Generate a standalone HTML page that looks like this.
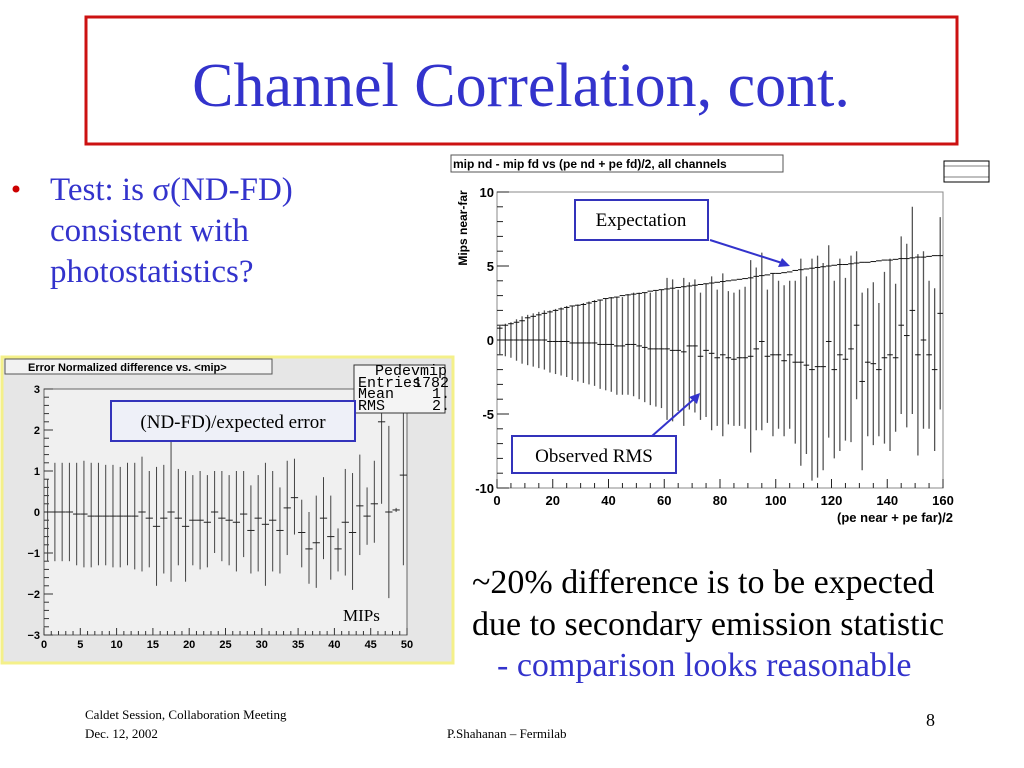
<!DOCTYPE html>
<html><head><meta charset="utf-8"><style>
html,body{margin:0;padding:0;background:#fff;}
body{width:1024px;height:768px;overflow:hidden;position:relative;}
svg{position:absolute;left:0;top:0;}
.serif{font-family:"Liberation Serif",serif;}
.sans{font-family:"Liberation Sans",sans-serif;}
</style></head><body>
<svg id="s" width="1024" height="768" viewBox="0 0 1024 768" xmlns="http://www.w3.org/2000/svg">
  <rect x="86" y="17" width="871" height="127" fill="#fff" stroke="#cc1111" stroke-width="3"/>
  <text class="serif" x="521" y="106" font-size="62" fill="#3333cc" text-anchor="middle">Channel Correlation, cont.</text>

  <circle cx="16" cy="189" r="3.5" fill="#cc0000"/>
  <g class="serif" font-size="33" fill="#3333cc">
    <text x="50" y="200">Test: is σ(ND-FD)</text>
    <text x="50" y="241">consistent with</text>
    <text x="50" y="282">photostatistics?</text>
  </g>

  <g class="serif" font-size="34">
    <text x="472" y="593" fill="#000">~20% difference is to be expected</text>
    <text x="472" y="635" fill="#000">due to secondary emission statistic</text>
    <text x="497" y="676" fill="#3333cc">- comparison looks reasonable</text>
  </g>

  <g class="serif" fill="#000">
    <text x="85" y="719" font-size="13">Caldet Session, Collaboration Meeting</text>
    <text x="85" y="738" font-size="13">Dec. 12, 2002</text>
    <text x="447" y="738" font-size="13">P.Shahanan – Fermilab</text>
    <text x="926" y="726" font-size="18">8</text>
  </g>

  <!-- left panel -->
  <rect x="2" y="357" width="451" height="306" fill="#e6e6e6" stroke="#f4f08a" stroke-width="3"/>
  <rect x="44" y="389" width="363" height="246" fill="#f0f0f0" stroke="#666" stroke-width="1"/>
  <rect x="5" y="359" width="267" height="15" fill="#f2f2f2" stroke="#555"/>
  <text class="sans" x="28" y="371" font-size="11" font-weight="bold">Error Normalized difference vs. &lt;mip&gt;</text>
  <g id="left"></g>
  <rect x="354" y="365" width="91" height="48" fill="#f4f4f4" stroke="#333"/>
  <g font-family="Liberation Mono, monospace" font-size="15" fill="#000">
    <text x="375" y="375">Pedevmip</text>
    <text x="358" y="387">Entries</text><text x="413" y="387">1782</text>
    <text x="358" y="398">Mean</text><text x="432" y="398">1.</text>
    <text x="358" y="410">RMS</text><text x="432" y="410">2.</text>
  </g>
  <rect x="111" y="401" width="244" height="40" fill="#eef0f8" stroke="#3333bb" stroke-width="2"/>
  <text class="serif" x="233" y="428" font-size="19" text-anchor="middle">(ND-FD)/expected error</text>
  <text class="serif" x="343" y="621" font-size="17">MIPs</text>

  <!-- right chart -->
  <rect x="451" y="155" width="332" height="17" fill="#fff" stroke="#555"/>
  <text class="sans" x="453" y="168" font-size="12" font-weight="bold">mip nd - mip fd vs (pe nd + pe fd)/2, all channels</text>
  <g>
    <rect x="944" y="161" width="45" height="21" fill="#fff" stroke="#000"/>
    <line x1="944" y1="166" x2="989" y2="166" stroke="#000" stroke-width="0.6"/>
    <line x1="944" y1="177" x2="989" y2="177" stroke="#000" stroke-width="0.6"/>
  </g>
  <rect x="497" y="192" width="446" height="296" fill="#fff" stroke="#888" stroke-width="1"/>
  <text class="sans" font-size="12" font-weight="bold" transform="translate(467,228) rotate(-90)" text-anchor="middle">Mips near-far</text>
  <text class="sans" x="953" y="522" font-size="13" font-weight="bold" text-anchor="end">(pe near + pe far)/2</text>
  <g id="right"></g>
  <g>
    <rect x="575" y="200" width="133" height="40" fill="#fff" stroke="#3333bb" stroke-width="2"/>
    <text class="serif" x="641" y="226" font-size="19" text-anchor="middle">Expectation</text>
    <line x1="710" y1="240" x2="782" y2="263" stroke="#3333cc" stroke-width="2"/>
    <polygon points="790,266 778,267 782,258" fill="#3333cc"/>
  </g>
  <g>
    <rect x="512" y="436" width="164" height="37" fill="#fff" stroke="#3333bb" stroke-width="2"/>
    <text class="serif" x="594" y="462" font-size="19" text-anchor="middle">Observed RMS</text>
    <line x1="652" y1="436" x2="694" y2="399" stroke="#3333cc" stroke-width="2"/>
    <polygon points="700,393 697,404 689,397" fill="#3333cc"/>
  </g>
</svg>
<script>
// ---- left chart data (bin i at x=i+0.5) ----
const leftMeans = [0,0,0,0,-0.05,-0.05,-0.1,-0.1,-0.1,-0.1,-0.1,-0.1,-0.1,0,-0.15,-0.35,-0.15,0,-0.15,-0.35,-0.2,-0.2,-0.25,0,-0.15,-0.2,-0.25,-0.05,-0.45,-0.15,-0.3,-0.2,-0.45,0.1,0.35,-0.5,-0.9,-0.75,-0.15,-0.6,-0.9,-0.25,-0.5,0.15,-0.1,0.2,2.2,0,0.05,0.9];
const leftHigh = [0.8,1.2,1.2,1.2,1.2,1.25,1.2,1.2,1.15,1.15,1.1,1.2,1.2,1.35,1.0,1.1,1.15,2.7,1.05,1.0,0.9,1.0,0.9,1.0,1.0,0.9,1.0,1.0,0.65,0.9,1.2,1.0,0.6,1.25,1.3,0.3,0,0.4,0.85,0.4,-0.4,1.05,0.95,1.4,0.6,1.25,3.0,2.1,0.1,3.0];
const leftLow = [-1.2,-1.2,-1.2,-1.2,-1.3,-1.35,-1.35,-1.3,-1.3,-1.35,-1.35,-1.3,-1.4,-1.45,-1.35,-1.8,-1.5,-1.7,-1.3,-1.7,-1.3,-1.4,-1.35,-1.0,-1.2,-1.3,-1.45,-1.1,-1.5,-1.45,-1.8,-1.45,-1.5,-1.05,-0.55,-1.35,-1.75,-1.85,-1.15,-1.65,-1.45,-1.55,-1.9,-1.05,-0.8,-0.75,0.2,-2.1,0.0,-1.3];
const leftXTicks = [0,5,10,15,20,25,30,35,40,45,50];
const leftYTicks = [3,2,1,0,-1,-2,-3];

// ---- right chart data (bin i at x=2i+1) ----
const rightMeans = [0,0,0,0,0,0,0,0,0,-0.1,-0.1,-0.1,-0.1,-0.2,-0.2,-0.2,-0.2,-0.2,-0.3,-0.3,-0.3,-0.4,-0.4,-0.3,-0.3,-0.4,-0.5,-0.6,-0.6,-0.6,-0.6,-0.7,-0.7,-0.8,-0.4,-0.4,-1.1,-0.7,-0.9,-1.2,-1.0,-1.2,-1.3,-1.2,-1.2,-1.1,-0.6,-0.1,-1.1,-1.0,-1.0,-1.4,-1.0,-1.5,-1.5,-1.7,-2.0,-1.8,-1.8,-0.1,-2.0,-1.0,-1.3,-0.6,1.0,-2.8,-1.5,-1.6,-2.0,-1.2,-1.0,-1.2,1.0,0.3,2.0,-1.0,0,-1.0,-2.0,1.8];
const rightRms = [1.0,1.1,1.2,1.4,1.6,1.7,1.8,1.9,2.0,2.1,2.2,2.3,2.4,2.5,2.6,2.7,2.8,2.9,3.0,3.1,3.2,3.3,3.3,3.4,3.5,3.6,3.7,3.8,3.9,4.0,4.8,4.8,4.1,5.0,4.3,4.5,4.3,4.5,5.2,4.6,5.5,4.5,4.5,4.6,4.8,6.5,5.5,6.0,4.5,5.5,5.0,5.1,5.0,5.5,7.0,6.0,7.5,7.5,7.0,6.5,6.0,6.5,5.5,6.3,5.0,6.0,5.0,5.5,4.5,5.8,6.5,5.0,6.0,6.2,7.0,6.8,6.0,5.0,5.5,6.5];
const rightExpect = [0.8,1.0,1.1,1.2,1.3,1.5,1.6,1.7,1.8,1.9,2.0,2.1,2.2,2.3,2.35,2.4,2.5,2.6,2.7,2.8,2.85,2.9,3.0,3.05,3.1,3.15,3.2,3.3,3.35,3.4,3.45,3.5,3.55,3.6,3.65,3.7,3.75,3.8,3.85,3.9,3.95,4.0,4.05,4.1,4.15,4.2,4.3,4.35,4.4,4.5,4.5,4.55,4.6,4.7,4.75,4.8,4.85,4.9,4.95,5.0,5.05,5.1,5.1,5.15,5.2,5.25,5.25,5.3,5.35,5.4,5.4,5.45,5.5,5.5,5.55,5.6,5.6,5.65,5.7,5.7];
const rightXTicks = [0,20,40,60,80,100,120,140,160];
const rightYTicks = [10,5,0,-5,-10];

const NS = 'http://www.w3.org/2000/svg';
function mk(parent, tag, attrs){const e=document.createElementNS(NS,tag);for(const k in attrs)e.setAttribute(k,attrs[k]);parent.appendChild(e);return e;}

// left axes
const lx = v => 44 + v/50*363;
const ly = v => 512 - v/3*123;
const L = document.getElementById('left');
leftXTicks.forEach(t=>{
  const tx = mk(L,'text',{x:lx(t),y:648,'font-size':11,'font-weight':'bold','text-anchor':'middle','font-family':'Liberation Sans, sans-serif'});
  tx.textContent=t;
  
  
});
for(let v=0;v<=50;v++){
  const ln=mk(L,'line',{x1:lx(v),x2:lx(v),y1:635,y2:v%5===0?628:631,stroke:'#333','stroke-width':1});
  
  
}
leftYTicks.forEach(t=>{
  const tx = mk(L,'text',{x:40,y:ly(t)+4,'font-size':11,'font-weight':'bold','text-anchor':'end','font-family':'Liberation Sans, sans-serif'});
  tx.textContent=t<0?'\u2212'+(-t):t;
  
  
});
for(let k=0;k<=30;k++){
  const v=-3+k*0.2;
  const ln=mk(L,'line',{x1:44,x2:k%5===0?53:49,y1:ly(v),y2:ly(v),stroke:'#333','stroke-width':1});
  
  
}
leftMeans.forEach((m,i)=>{
  const x=lx(i+0.5);
  const b=mk(L,'line',{x1:x,x2:x,y1:ly(Math.min(leftHigh[i],3)),y2:ly(leftLow[i]),stroke:'#444','stroke-width':1});
  
  
  const h=mk(L,'line',{x1:lx(i),x2:lx(i+1),y1:ly(m),y2:ly(m),stroke:'#222','stroke-width':1});
  
  
});

// right axes
const rx = v => 497 + v/160*446;
const ry = v => 340 - v/10*148;
const R = document.getElementById('right');
rightXTicks.forEach(t=>{
  const tx=mk(R,'text',{x:rx(t),y:505,'font-size':13,'font-weight':'bold','text-anchor':'middle','font-family':'Liberation Sans, sans-serif'});
  tx.textContent=t;
  
  
});
for(let v=0;v<=160;v+=5){
  const ln=mk(R,'line',{x1:rx(v),x2:rx(v),y1:488,y2:v%20===0?479:483,stroke:'#222','stroke-width':1});
  
  
}
rightYTicks.forEach(t=>{
  const tx=mk(R,'text',{x:494,y:ry(t)+5,'font-size':13,'font-weight':'bold','text-anchor':'end','font-family':'Liberation Sans, sans-serif'});
  tx.textContent=t;
  
  
});
for(let v=-10;v<=10;v++){
  const ln=mk(R,'line',{x1:497,x2:v%5===0?509:503,y1:ry(v),y2:ry(v),stroke:'#222','stroke-width':1});
  
  
}
rightMeans.forEach((m,i)=>{
  const c=2*i+1;
  const hi=Math.min(m+rightRms[i],10), lo=Math.max(m-rightRms[i],-10);
  const b=mk(R,'line',{x1:rx(c),x2:rx(c),y1:ry(hi),y2:ry(lo),stroke:'#555','stroke-width':1.3});
  
  
  const h=mk(R,'line',{x1:rx(c-1),x2:rx(c+1),y1:ry(m),y2:ry(m),stroke:'#111','stroke-width':1});
  
  
  const e=mk(R,'line',{x1:rx(c-1),x2:rx(c+1),y1:ry(rightExpect[i]),y2:ry(rightExpect[i]),stroke:'#111','stroke-width':1});
  
  
});
</script>
</body></html>
